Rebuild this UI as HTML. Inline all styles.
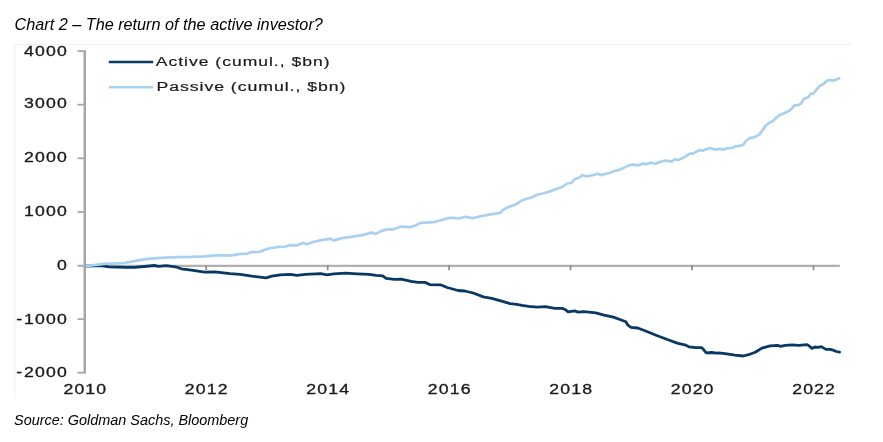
<!DOCTYPE html>
<html lang="en">
<head>
<meta charset="utf-8">
<title>Chart 2 – The return of the active investor?</title>
<style>
html,body{margin:0;padding:0;background:#fff;}
body{width:883px;height:442px;position:relative;overflow:hidden;font-family:"Liberation Sans",Arial,sans-serif;color:#111;}
.t{position:absolute;will-change:transform;white-space:nowrap;font-style:italic;line-height:1;margin:0;}
#title{left:15.0px;top:16.1px;font-size:16.23px;}
#source{left:14.0px;top:412.9px;font-size:14.43px;}
#chart{filter:blur(0.5px);}
</style>
</head>
<body>
<svg width="883" height="442" viewBox="0 0 883 442" style="position:absolute;left:0;top:0">
<line x1="14.2" y1="44.4" x2="852" y2="44.4" stroke="#f0f0f0" stroke-width="1"/>
<line x1="14.7" y1="44" x2="14.7" y2="398" stroke="#f0f0f0" stroke-width="1"/>
<g id="chart">
<line x1="84.75" y1="50.2" x2="84.75" y2="373.59999999999997" stroke="#a4a4a4" stroke-width="2.4"/>
<line x1="77.55" y1="265.80" x2="839.8" y2="265.80" stroke="#b0b0b0" stroke-width="2.2"/>
<line x1="77.55" y1="51.10" x2="84.75" y2="51.10" stroke="#a8a8a8" stroke-width="1.8"/>
<line x1="77.55" y1="104.70" x2="84.75" y2="104.70" stroke="#a8a8a8" stroke-width="1.8"/>
<line x1="77.55" y1="158.30" x2="84.75" y2="158.30" stroke="#a8a8a8" stroke-width="1.8"/>
<line x1="77.55" y1="211.90" x2="84.75" y2="211.90" stroke="#a8a8a8" stroke-width="1.8"/>
<line x1="77.55" y1="319.10" x2="84.75" y2="319.10" stroke="#a8a8a8" stroke-width="1.8"/>
<line x1="77.55" y1="372.70" x2="84.75" y2="372.70" stroke="#a8a8a8" stroke-width="1.8"/>
<line x1="206.21" y1="265.20" x2="206.21" y2="270.20" stroke="#8e8e8e" stroke-width="1.8"/>
<line x1="327.67" y1="265.20" x2="327.67" y2="270.20" stroke="#8e8e8e" stroke-width="1.8"/>
<line x1="449.12" y1="265.20" x2="449.12" y2="270.20" stroke="#8e8e8e" stroke-width="1.8"/>
<line x1="570.58" y1="265.20" x2="570.58" y2="270.20" stroke="#8e8e8e" stroke-width="1.8"/>
<line x1="692.04" y1="265.20" x2="692.04" y2="270.20" stroke="#8e8e8e" stroke-width="1.8"/>
<line x1="813.50" y1="265.20" x2="813.50" y2="270.20" stroke="#8e8e8e" stroke-width="1.8"/>
<text id="yl0" transform="translate(67.90,55.95) scale(1.28,1)" text-anchor="end" letter-spacing="0.9" font-family="'Liberation Sans', Arial, sans-serif" font-size="13.8" fill="#1a1a1a" stroke="#1a1a1a" stroke-width="0.3">4000</text>
<text id="yl1" transform="translate(67.90,108.45) scale(1.28,1)" text-anchor="end" letter-spacing="0.9" font-family="'Liberation Sans', Arial, sans-serif" font-size="13.8" fill="#1a1a1a" stroke="#1a1a1a" stroke-width="0.3">3000</text>
<text id="yl2" transform="translate(67.90,162.35) scale(1.28,1)" text-anchor="end" letter-spacing="0.9" font-family="'Liberation Sans', Arial, sans-serif" font-size="13.8" fill="#1a1a1a" stroke="#1a1a1a" stroke-width="0.3">2000</text>
<text id="yl3" transform="translate(67.90,216.15) scale(1.28,1)" text-anchor="end" letter-spacing="0.9" font-family="'Liberation Sans', Arial, sans-serif" font-size="13.8" fill="#1a1a1a" stroke="#1a1a1a" stroke-width="0.3">1000</text>
<text id="yl4" transform="translate(67.90,270.05) scale(1.28,1)" text-anchor="end" letter-spacing="0.9" font-family="'Liberation Sans', Arial, sans-serif" font-size="13.8" fill="#1a1a1a" stroke="#1a1a1a" stroke-width="0.3">0</text>
<text id="yl5" transform="translate(67.90,323.65) scale(1.28,1)" text-anchor="end" letter-spacing="0.9" font-family="'Liberation Sans', Arial, sans-serif" font-size="13.8" fill="#1a1a1a" stroke="#1a1a1a" stroke-width="0.3">-<tspan dx="0.6">1000</tspan></text>
<text id="yl6" transform="translate(67.90,376.55) scale(1.28,1)" text-anchor="end" letter-spacing="0.9" font-family="'Liberation Sans', Arial, sans-serif" font-size="13.8" fill="#1a1a1a" stroke="#1a1a1a" stroke-width="0.3">-<tspan dx="0.6">2000</tspan></text>
<text id="xl0" transform="translate(85.35,393.60) scale(1.28,1)" text-anchor="middle" letter-spacing="0.9" font-family="'Liberation Sans', Arial, sans-serif" font-size="13.8" fill="#1a1a1a" stroke="#1a1a1a" stroke-width="0.3">2010</text>
<text id="xl1" transform="translate(206.81,393.60) scale(1.28,1)" text-anchor="middle" letter-spacing="0.9" font-family="'Liberation Sans', Arial, sans-serif" font-size="13.8" fill="#1a1a1a" stroke="#1a1a1a" stroke-width="0.3">2012</text>
<text id="xl2" transform="translate(328.27,393.60) scale(1.28,1)" text-anchor="middle" letter-spacing="0.9" font-family="'Liberation Sans', Arial, sans-serif" font-size="13.8" fill="#1a1a1a" stroke="#1a1a1a" stroke-width="0.3">2014</text>
<text id="xl3" transform="translate(449.73,393.60) scale(1.28,1)" text-anchor="middle" letter-spacing="0.9" font-family="'Liberation Sans', Arial, sans-serif" font-size="13.8" fill="#1a1a1a" stroke="#1a1a1a" stroke-width="0.3">2016</text>
<text id="xl4" transform="translate(571.18,393.60) scale(1.28,1)" text-anchor="middle" letter-spacing="0.9" font-family="'Liberation Sans', Arial, sans-serif" font-size="13.8" fill="#1a1a1a" stroke="#1a1a1a" stroke-width="0.3">2018</text>
<text id="xl5" transform="translate(692.64,393.60) scale(1.28,1)" text-anchor="middle" letter-spacing="0.9" font-family="'Liberation Sans', Arial, sans-serif" font-size="13.8" fill="#1a1a1a" stroke="#1a1a1a" stroke-width="0.3">2020</text>
<text id="xl6" transform="translate(814.10,393.60) scale(1.28,1)" text-anchor="middle" letter-spacing="0.9" font-family="'Liberation Sans', Arial, sans-serif" font-size="13.8" fill="#1a1a1a" stroke="#1a1a1a" stroke-width="0.3">2022</text>
<polyline points="86.6,266.0 94.0,265.9 100.8,265.6 109.1,266.8 125.9,267.3 134.3,267.3 144.3,266.5 154.4,265.5 158.6,266.3 166.1,265.6 175.4,266.8 181.2,268.8 191.3,270.2 204.7,272.2 214.7,271.8 230.0,273.6 240.1,274.4 251.8,276.1 266.0,277.8 271.9,276.1 280.3,274.8 290.3,274.3 297.0,275.3 305.4,274.4 320.5,273.6 327.2,274.8 333.9,273.9 345.7,273.1 357.4,273.8 369.1,274.3 376.0,275.4 382.7,275.9 386.1,278.3 394.4,279.3 401.1,279.1 411.2,281.3 417.9,282.4 425.4,282.4 429.6,284.6 440.5,284.8 447.2,287.5 458.1,290.5 464.8,291.0 473.2,293.0 483.3,296.9 491.7,298.4 501.7,301.1 510.1,303.6 516.8,304.4 522.0,305.4 528.7,306.4 537.1,307.2 545.5,306.7 554.7,308.4 562.2,308.4 565.6,309.8 568.1,311.8 574.8,310.9 578.2,312.1 583.2,311.6 595.8,312.9 604.1,315.1 613.4,317.1 619.2,319.3 625.9,321.8 627.9,325.2 631.0,327.3 637.7,328.0 644.4,330.5 656.1,335.2 668.0,339.8 678.1,343.4 684.8,344.8 689.0,346.8 695.7,347.6 701.5,347.6 704.0,350.1 706.2,352.8 711.6,352.5 716.6,353.2 719.1,352.8 726.7,353.8 735.0,355.2 743.4,356.0 748.5,354.7 755.2,352.3 761.9,348.1 770.2,345.8 777.8,345.4 780.3,346.3 785.3,345.3 792.0,344.9 798.7,345.4 807.1,344.6 809.5,346.2 811.9,348.4 815.0,347.0 818.2,347.3 821.4,346.6 823.8,348.1 826.1,349.4 830.1,349.4 833.3,350.2 836.4,351.5 839.6,352.2" fill="none" stroke="#0a3864" stroke-width="2.8" stroke-linejoin="round" stroke-linecap="round"/>
<polyline points="86.6,265.9 94.1,265.1 105.8,263.6 114.2,263.6 124.2,263.0 134.3,261.1 147.7,258.8 164.5,257.6 177.9,257.1 191.3,256.9 204.7,256.3 218.1,255.1 230.0,255.7 240.1,253.8 246.8,253.8 251.0,252.2 259.3,251.8 268.6,248.5 278.6,246.8 285.3,246.5 290.3,245.1 297.0,245.4 302.9,242.9 307.1,244.3 313.8,241.8 323.9,239.6 330.6,238.9 333.9,240.4 342.3,238.1 352.4,236.7 362.4,235.1 371.0,232.6 375.5,233.9 381.0,231.1 386.9,229.4 392.8,229.4 401.1,226.5 409.5,227.2 416.2,225.2 420.4,222.9 429.6,222.4 435.5,221.8 443.0,219.8 448.1,218.0 453.1,217.8 459.0,218.5 464.8,216.8 472.4,218.2 478.2,216.8 486.6,215.1 493.3,213.8 500.0,213.0 502.6,210.4 506.7,207.6 515.1,204.8 522.0,200.3 532.1,197.3 537.1,194.8 543.8,193.2 552.2,190.6 562.2,186.9 567.3,183.5 571.4,183.0 574.8,179.0 579.0,177.7 582.3,175.1 585.7,176.3 591.6,175.5 597.4,173.8 600.8,175.1 609.2,173.0 615.9,170.6 620.1,169.6 629.3,165.1 633.5,164.6 637.7,165.4 642.7,163.7 646.0,164.2 651.1,162.6 655.3,163.7 660.3,161.7 665.3,160.6 668.0,160.8 671.4,161.6 674.7,159.4 678.9,159.8 684.8,156.9 689.8,153.6 693.1,153.6 699.0,150.2 702.4,150.7 709.9,148.0 715.8,149.7 720.0,148.9 722.5,149.6 726.7,148.4 732.5,147.9 735.0,146.2 737.6,146.5 743.4,144.7 745.9,141.0 750.1,137.7 752.6,138.0 759.4,134.6 764.4,127.6 765.2,125.9 770.0,122.3 772.8,121.2 776.8,117.3 780.2,114.7 783.6,113.6 789.7,110.5 795.1,105.0 797.8,105.3 801.2,103.3 803.9,98.9 808.7,96.9 810.7,93.5 812.8,93.8 816.8,89.4 819.5,86.0 823.6,84.0 826.3,81.3 829.0,79.9 832.4,80.6 835.8,79.9 839.2,78.2" fill="none" stroke="#a9d1ef" stroke-width="2.7" stroke-linejoin="round" stroke-linecap="round"/>
<line x1="108.8" y1="62" x2="153.2" y2="62" stroke="#0a3864" stroke-width="2.6"/>
<line x1="108.8" y1="87.2" x2="153.2" y2="87.2" stroke="#a9d1ef" stroke-width="2.6"/>
<text id="lg1" transform="translate(155.70,65.75) scale(1.315,1)" text-anchor="start" letter-spacing="0.78" font-family="'Liberation Sans', Arial, sans-serif" font-size="13.3" fill="#1a1a1a" stroke="#1a1a1a" stroke-width="0.2">Active (cumul., $bn)</text>
<text id="lg2" transform="translate(156.40,90.90) scale(1.33,1)" text-anchor="start" letter-spacing="0.72" font-family="'Liberation Sans', Arial, sans-serif" font-size="13.3" fill="#1a1a1a" stroke="#1a1a1a" stroke-width="0.2">Passive (cumul., $bn)</text>
</g>
<g opacity="0.999" font-family="'Liberation Sans', Arial, sans-serif" font-style="italic" fill="#000">
<text id="title" x="14.5" y="29.7" font-size="16.23">Chart 2 – The return of the active investor?</text>
<text id="source" x="14.1" y="424.95" font-size="14.43">Source: Goldman Sachs, Bloomberg</text>
</g>
</svg>
</body>
</html>
